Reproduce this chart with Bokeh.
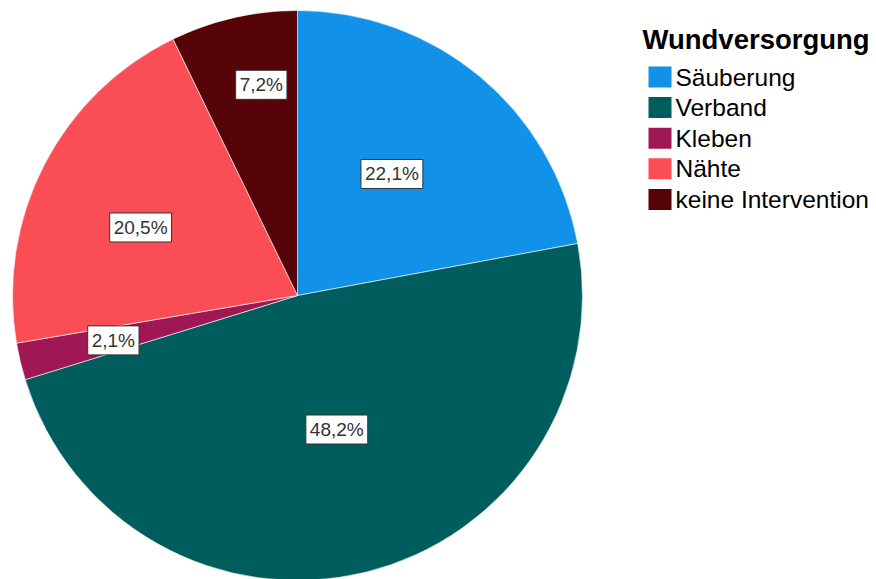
import math
from bokeh.plotting import figure
from bokeh.models import Range1d, ColumnDataSource
from bokeh.core.properties import value
from bokeh.embed import file_html
from bokeh.resources import INLINE

# ---- data ----
categories = ["Säuberung", "Verband", "Kleben", "Nähte", "keine Intervention"]
percents = [22.1, 48.2, 2.1, 20.5, 7.2]
labels = ["22,1%", "48,2%", "2,1%", "20,5%", "7,2%"]
colors = ["#1192e8", "#005d5d", "#9f1853", "#fa4d56", "#570408"]
legend_title = "Wundversorgung"

# ---- layout / style ----
W, H = 876, 579
CX, CY, R = 297, 284, 285          # pie centre / radius in pixel-like data units
label_rfrac = [0.54, 0.49, 0.665, 0.60, 0.75]
label_turn_deg = [-1.9, -2.5, -0.3, -3.8, 3.2]   # small clockwise nudges of label placement
FONT = "Liberation Sans"

total = sum(percents)
starts, ends, lx, ly = [], [], [], []
cum = 0.0
for i, pct in enumerate(percents):
    c0 = cum / total
    cum += pct
    c1 = cum / total
    starts.append(math.pi / 2 - 2 * math.pi * c1)
    ends.append(math.pi / 2 - 2 * math.pi * c0)
    mid = math.pi / 2 - 2 * math.pi * (c0 + c1) / 2 - math.radians(label_turn_deg[i])
    lx.append(CX + label_rfrac[i] * R * math.cos(mid))
    ly.append(CY + label_rfrac[i] * R * math.sin(mid))

src = ColumnDataSource(dict(cat=categories, pct=percents, lab=labels, color=colors,
                            start=starts, end=ends, lx=lx, ly=ly))

p = figure(width=W, height=H, x_range=Range1d(0, W), y_range=Range1d(0, H),
           output_backend="svg", toolbar_location=None, min_border=0)
p.axis.visible = False
p.grid.visible = False
p.outline_line_color = None
p.background_fill_color = "white"
p.border_fill_color = "white"

p.wedge(x=CX, y=CY, radius=R, start_angle="start", end_angle="end",
        fill_color="color", line_color="white", line_width=0.6, source=src)

p.text(x="lx", y="ly", text="lab", source=src, text_align="center",
       text_baseline="middle", text_font=value(FONT), text_font_size="19px",
       text_color="#333333", background_fill_color="white",
       border_line_color="#333333", border_line_width=1, padding=4)

# ---- legend (drawn manually) ----
leg_x = 648            # swatch left (data units)
leg_top = H - 66       # top of first swatch
row_h = 30.6
sw_w, sw_h = 23, 21
rows = list(range(len(categories)))
leg_src = ColumnDataSource(dict(
    x=[leg_x + sw_w / 2] * len(rows),
    y=[leg_top - sw_h / 2 - i * row_h for i in rows],
    tx=[leg_x + sw_w + 4] * len(rows),
    cat=categories, color=colors))
p.rect(x="x", y="y", width=sw_w, height=sw_h, fill_color="color",
       line_color=None, source=leg_src)
p.text(x="tx", y="y", text="cat", source=leg_src, text_align="left",
       text_baseline="middle", text_font=value(FONT), text_font_size="24.5px",
       text_color="#000000")
p.text(x=[642], y=[H - 39], text=[legend_title], text_align="left",
       text_baseline="middle", text_font=value(FONT), text_font_size="27.5px",
       text_font_style="bold", text_color="#000000")

open("out.html", "w").write(file_html(p, INLINE))
